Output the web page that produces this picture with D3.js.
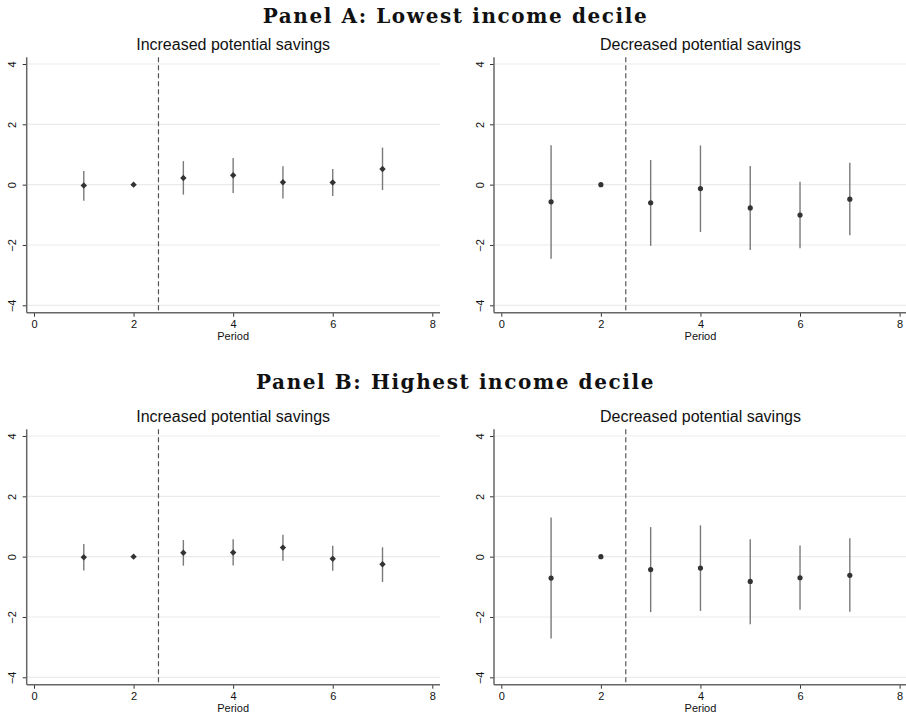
<!DOCTYPE html>
<html>
<head>
<meta charset="utf-8">
<script src="https://cdn.jsdelivr.net/npm/d3@7"></script>
<style>
  body { margin: 0; background: #fff; }
  svg { display: block; }
</style>
</head>
<body>
<div id="chart"></div>
<script>
// event-study estimates, periods 1..7 (period 2 = reference, no CI)
var periods = [1, 2, 3, 4, 5, 6, 7];

var aIncEst = [-0.03, 0, 0.22, 0.31, 0.08, 0.07, 0.52];
var aIncLo  = [-0.53, null, -0.33, -0.28, -0.46, -0.38, -0.18];
var aIncHi  = [0.45, null, 0.78, 0.88, 0.61, 0.52, 1.23];

var aDecEst = [-0.57, 0, -0.60, -0.13, -0.77, -1.01, -0.48];
var aDecLo  = [-2.46, null, -2.03, -1.57, -2.17, -2.11, -1.68];
var aDecHi  = [1.31, null, 0.82, 1.30, 0.62, 0.10, 0.73];

var bIncEst = [-0.02, 0, 0.13, 0.14, 0.30, -0.07, -0.25];
var bIncLo  = [-0.46, null, -0.30, -0.29, -0.14, -0.47, -0.84];
var bIncHi  = [0.42, null, 0.55, 0.58, 0.73, 0.36, 0.31];

var bDecEst = [-0.71, 0, -0.43, -0.38, -0.82, -0.70, -0.62];
var bDecLo  = [-2.71, null, -1.84, -1.80, -2.24, -1.76, -1.83];
var bDecHi  = [1.30, null, 0.98, 1.04, 0.58, 0.37, 0.61];

var panelTitles = ["Panel A: Lowest income decile", "Panel B: Highest income decile"];
var subTitles = ["Increased potential savings", "Decreased potential savings"];
var xTicks = [0, 2, 4, 6, 8];
var yTicks = [-4, -2, 0, 2, 4];
var treatLine = 2.5;
var xLabel = "Period";

(function() {
  var width = 906, height = 718;

  var svg = d3.select("#chart").append("svg")
              .attr("width", width)
              .attr("height", height);

  // panel geometry (one sub-plot); others are shifted copies
  var axisX = 26.7, plotRight = 440, plotTop = 57.3, axisY = 312.7;
  var colShift = [0, 467.3], rowShift = [0, 372];
  var titleY = [23, 389];

  function rows(est, lo, hi) {
    return periods.map(function(p, i) {
      return {period: p, est: est[i], lo: lo[i], hi: hi[i]};
    });
  }

  var panels = [
    {r: 0, c: 0, marker: "diamond", data: rows(aIncEst, aIncLo, aIncHi)},
    {r: 0, c: 1, marker: "circle",  data: rows(aDecEst, aDecLo, aDecHi)},
    {r: 1, c: 0, marker: "diamond", data: rows(bIncEst, bIncLo, bIncHi)},
    {r: 1, c: 1, marker: "circle",  data: rows(bDecEst, bDecLo, bDecHi)}
  ];

  // big serif panel headers
  panelTitles.forEach(function(t, i) {
    svg.append("text")
       .attr("x", 455.5)
       .attr("y", titleY[i])
       .attr("text-anchor", "middle")
       .style("font-family", "'DejaVu Serif', serif")
       .style("font-weight", "bold")
       .style("font-size", "20px")
       .style("letter-spacing", "1.6px")
       .attr("fill", "#111")
       .text(t);
  });

  panels.forEach(function(p) {
    var dx = colShift[p.c], dy = rowShift[p.r];
    var g = svg.append("g").attr("transform", "translate(" + dx + "," + dy + ")");

    var x = d3.scaleLinear().domain([0, 8]).range([34, 432.3]);
    var y = d3.scaleLinear().domain([-4, 4]).range([305.3, 64]);

    // grid
    g.selectAll(".grid").data(yTicks).enter().append("line")
     .attr("x1", axisX).attr("x2", plotRight)
     .attr("y1", function(d) { return y(d); })
     .attr("y2", function(d) { return y(d); })
     .attr("stroke", "#ebebeb").attr("stroke-width", 1.2);

    // treatment line
    g.append("line")
     .attr("x1", x(treatLine)).attr("x2", x(treatLine))
     .attr("y1", plotTop).attr("y2", axisY)
     .attr("stroke", "#555").attr("stroke-width", 1.2)
     .attr("stroke-dasharray", "5,3");

    // y axis
    var ya = g.append("g").attr("transform", "translate(" + axisX + ",0)")
              .call(d3.axisLeft(y).tickValues(yTicks).tickSize(4).tickFormat(d3.format("d")));
    ya.select(".domain").remove();
    ya.selectAll(".tick line").attr("stroke", "#333");
    ya.selectAll(".tick text")
      .attr("transform", "rotate(-90)")
      .attr("x", 0).attr("y", -10.5).attr("dy", 0)
      .style("text-anchor", "middle")
      .text(function(d) { return d < 0 ? "\u2212" + Math.abs(d) : d; });

    // x axis
    var xa = g.append("g").attr("transform", "translate(0," + axisY + ")")
              .call(d3.axisBottom(x).tickValues(xTicks).tickSize(4).tickPadding(4));
    xa.select(".domain").remove();
    xa.selectAll(".tick line").attr("stroke", "#333");

    [ya, xa].forEach(function(a) {
      a.selectAll("text")
       .style("font-family", "'Liberation Sans', Arial, sans-serif")
       .style("font-size", "11px")
       .attr("fill", "#111");
    });

    // axis lines
    g.append("line").attr("x1", axisX).attr("x2", axisX)
     .attr("y1", plotTop).attr("y2", axisY)
     .attr("stroke", "#666").attr("stroke-width", 1.5);
    g.append("line").attr("x1", axisX).attr("x2", plotRight)
     .attr("y1", axisY).attr("y2", axisY)
     .attr("stroke", "#666").attr("stroke-width", 1.5);

    // titles
    g.append("text")
     .attr("x", x(4)).attr("y", 50)
     .attr("text-anchor", "middle")
     .style("font-family", "'Liberation Sans', Arial, sans-serif")
     .style("font-size", "16px")
     .attr("fill", "#111")
     .text(subTitles[p.c]);

    g.append("text")
     .attr("x", x(4)).attr("y", 340)
     .attr("text-anchor", "middle")
     .style("font-family", "'Liberation Sans', Arial, sans-serif")
     .style("font-size", "11px")
     .attr("fill", "#111")
     .text(xLabel);

    // confidence intervals
    g.selectAll(".ci").data(p.data.filter(function(d) { return d.lo !== null; }))
     .enter().append("line")
     .attr("x1", function(d) { return x(d.period); })
     .attr("x2", function(d) { return x(d.period); })
     .attr("y1", function(d) { return y(d.lo); })
     .attr("y2", function(d) { return y(d.hi); })
     .attr("stroke", "#7a7a7a").attr("stroke-width", 1.4);

    // point estimates
    if (p.marker === "diamond") {
      g.selectAll(".pt").data(p.data).enter().append("path")
       .attr("d", "M0,-3.2L3.2,0L0,3.2L-3.2,0Z")
       .attr("transform", function(d) { return "translate(" + x(d.period) + "," + y(d.est) + ")"; })
       .attr("fill", "#333");
    } else {
      g.selectAll(".pt").data(p.data).enter().append("circle")
       .attr("cx", function(d) { return x(d.period); })
       .attr("cy", function(d) { return y(d.est); })
       .attr("r", 2.6)
       .attr("fill", "#333");
    }
  });
})();
</script>
</body>
</html>
